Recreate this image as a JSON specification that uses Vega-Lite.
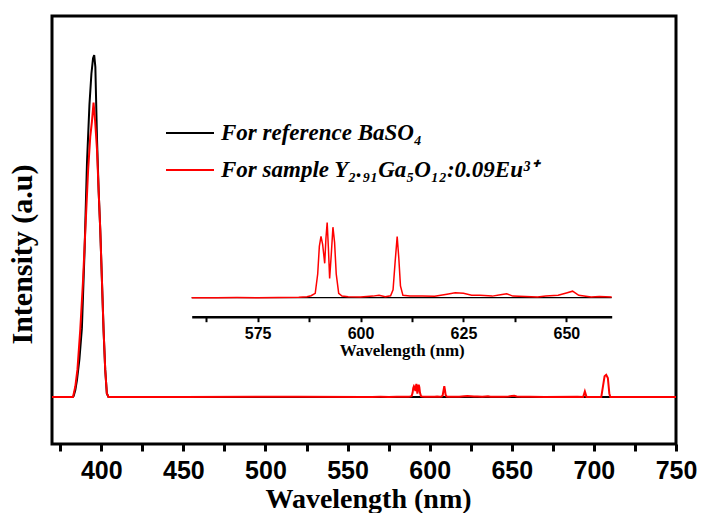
{
  "$schema": "https://vega.github.io/schema/vega-lite/v6.json",
  "width": 624,
  "height": 428,
  "autosize": {"type": "none"},
  "padding": {"left": 52, "top": 16, "right": 28, "bottom": 69},
  "background": "white",
  "config": {"view": {"stroke": "black", "strokeWidth": 3}, "axis": {"grid": false}},
  "datasets": {
    "spec": [
      {"w": 370, "I": 0, "s": "ref"},
      {"w": 382.5, "I": 0, "s": "ref"},
      {"w": 383.2, "I": 0.003, "s": "ref"},
      {"w": 384.2, "I": 0.02, "s": "ref"},
      {"w": 385.2, "I": 0.049, "s": "ref"},
      {"w": 386.7, "I": 0.11, "s": "ref"},
      {"w": 388.2, "I": 0.2, "s": "ref"},
      {"w": 389.8, "I": 0.42, "s": "ref"},
      {"w": 391.3, "I": 0.68, "s": "ref"},
      {"w": 392.8, "I": 0.85, "s": "ref"},
      {"w": 394, "I": 0.94, "s": "ref"},
      {"w": 395, "I": 0.985, "s": "ref"},
      {"w": 395.7, "I": 0.994, "s": "ref"},
      {"w": 396.4, "I": 0.96, "s": "ref"},
      {"w": 397.4, "I": 0.75, "s": "ref"},
      {"w": 398.4, "I": 0.6, "s": "ref"},
      {"w": 399.4, "I": 0.485, "s": "ref"},
      {"w": 400.4, "I": 0.34, "s": "ref"},
      {"w": 401.4, "I": 0.195, "s": "ref"},
      {"w": 402.4, "I": 0.08, "s": "ref"},
      {"w": 403.4, "I": 0.01, "s": "ref"},
      {"w": 404.4, "I": 0, "s": "ref"},
      {"w": 500, "I": 0, "s": "ref"},
      {"w": 559, "I": 0, "s": "ref"},
      {"w": 600, "I": 0, "s": "ref"},
      {"w": 630, "I": 0, "s": "ref"},
      {"w": 661, "I": 0, "s": "ref"},
      {"w": 750, "I": 0, "s": "ref"},

      {"w": 370, "I": 0, "s": "sample"},
      {"w": 382.8, "I": 0, "s": "sample"},
      {"w": 384.2, "I": 0.03, "s": "sample"},
      {"w": 385.5, "I": 0.08, "s": "sample"},
      {"w": 387.2, "I": 0.195, "s": "sample"},
      {"w": 388.8, "I": 0.33, "s": "sample"},
      {"w": 390.3, "I": 0.485, "s": "sample"},
      {"w": 392, "I": 0.66, "s": "sample"},
      {"w": 393.3, "I": 0.757, "s": "sample"},
      {"w": 394.3, "I": 0.8, "s": "sample"},
      {"w": 395.3, "I": 0.856, "s": "sample"},
      {"w": 396.3, "I": 0.8, "s": "sample"},
      {"w": 397.4, "I": 0.72, "s": "sample"},
      {"w": 398.4, "I": 0.6, "s": "sample"},
      {"w": 399.4, "I": 0.485, "s": "sample"},
      {"w": 400.4, "I": 0.34, "s": "sample"},
      {"w": 401.4, "I": 0.195, "s": "sample"},
      {"w": 402.4, "I": 0.08, "s": "sample"},
      {"w": 403.4, "I": 0.01, "s": "sample"},
      {"w": 404.4, "I": 0, "s": "sample"},
      {"w": 450, "I": 0, "s": "sample"},
      {"w": 500, "I": 0.0004, "s": "sample"},
      {"w": 520, "I": 0.0008, "s": "sample"},
      {"w": 559, "I": 0, "s": "sample"},
      {"w": 565, "I": 0, "s": "sample"},
      {"w": 570, "I": 0.0001, "s": "sample"},
      {"w": 575, "I": 0, "s": "sample"},
      {"w": 580, "I": 0.0001, "s": "sample"},
      {"w": 585, "I": 0.0002, "s": "sample"},
      {"w": 587, "I": 0.0005, "s": "sample"},
      {"w": 588, "I": 0.001, "s": "sample"},
      {"w": 589, "I": 0.0022, "s": "sample"},
      {"w": 589.6, "I": 0.012, "s": "sample"},
      {"w": 590, "I": 0.026, "s": "sample"},
      {"w": 590.4, "I": 0.031, "s": "sample"},
      {"w": 590.8, "I": 0.027, "s": "sample"},
      {"w": 591.3, "I": 0.0174, "s": "sample"},
      {"w": 591.6, "I": 0.03, "s": "sample"},
      {"w": 591.9, "I": 0.038, "s": "sample"},
      {"w": 592.2, "I": 0.025, "s": "sample"},
      {"w": 592.5, "I": 0.0098, "s": "sample"},
      {"w": 592.9, "I": 0.022, "s": "sample"},
      {"w": 593.3, "I": 0.0357, "s": "sample"},
      {"w": 593.7, "I": 0.028, "s": "sample"},
      {"w": 594.1, "I": 0.012, "s": "sample"},
      {"w": 594.7, "I": 0.0022, "s": "sample"},
      {"w": 595.5, "I": 0.0008, "s": "sample"},
      {"w": 597, "I": 0.0005, "s": "sample"},
      {"w": 600, "I": 0.0003, "s": "sample"},
      {"w": 603, "I": 0.0008, "s": "sample"},
      {"w": 604.5, "I": 0.0012, "s": "sample"},
      {"w": 606, "I": 0.0005, "s": "sample"},
      {"w": 607.3, "I": 0.001, "s": "sample"},
      {"w": 607.9, "I": 0.004, "s": "sample"},
      {"w": 608.4, "I": 0.018, "s": "sample"},
      {"w": 608.9, "I": 0.0309, "s": "sample"},
      {"w": 609.3, "I": 0.02, "s": "sample"},
      {"w": 609.7, "I": 0.006, "s": "sample"},
      {"w": 610.3, "I": 0.0012, "s": "sample"},
      {"w": 612, "I": 0.0008, "s": "sample"},
      {"w": 615, "I": 0.0008, "s": "sample"},
      {"w": 618, "I": 0.0007, "s": "sample"},
      {"w": 621, "I": 0.0018, "s": "sample"},
      {"w": 623, "I": 0.0025, "s": "sample"},
      {"w": 625, "I": 0.0022, "s": "sample"},
      {"w": 627, "I": 0.0012, "s": "sample"},
      {"w": 629, "I": 0.0012, "s": "sample"},
      {"w": 632, "I": 0.0008, "s": "sample"},
      {"w": 634, "I": 0.0015, "s": "sample"},
      {"w": 635.5, "I": 0.002, "s": "sample"},
      {"w": 637, "I": 0.0008, "s": "sample"},
      {"w": 640, "I": 0.0006, "s": "sample"},
      {"w": 643, "I": 0.0004, "s": "sample"},
      {"w": 645, "I": 0.0008, "s": "sample"},
      {"w": 648, "I": 0.0012, "s": "sample"},
      {"w": 650, "I": 0.0024, "s": "sample"},
      {"w": 651.5, "I": 0.0033, "s": "sample"},
      {"w": 653, "I": 0.0012, "s": "sample"},
      {"w": 656, "I": 0.0004, "s": "sample"},
      {"w": 658, "I": 0.0006, "s": "sample"},
      {"w": 661, "I": 0.0004, "s": "sample"},
      {"w": 670, "I": 0, "s": "sample"},
      {"w": 690, "I": 0.0005, "s": "sample"},
      {"w": 693.5, "I": 0, "s": "sample"},
      {"w": 694.5, "I": 0.016, "s": "sample"},
      {"w": 695.5, "I": 0, "s": "sample"},
      {"w": 704.5, "I": 0, "s": "sample"},
      {"w": 705.5, "I": 0.03, "s": "sample"},
      {"w": 706.5, "I": 0.06, "s": "sample"},
      {"w": 707.5, "I": 0.064, "s": "sample"},
      {"w": 708.5, "I": 0.055, "s": "sample"},
      {"w": 709.4, "I": 0.01, "s": "sample"},
      {"w": 710, "I": 0, "s": "sample"},
      {"w": 750, "I": 0, "s": "sample"}
    ]
  },
  "data": {"name": "spec"},
  "layer": [
    {
      "encoding": {
        "x": {
          "field": "w", "type": "quantitative",
          "scale": {"domain": [370, 750], "nice": false, "zero": false},
          "axis": {
            "values": [375, 400, 425, 450, 475, 500, 525, 550, 575, 600, 625, 650, 675, 700, 725, 750],
            "labelExpr": "datum.value % 50 == 0 ? datum.label : ''",
            "title": "Wavelength (nm)",
            "domain": false,
            "tickSize": 7, "tickWidth": 3, "tickColor": "black",
            "labelFont": "Liberation Sans", "labelFontWeight": "bold", "labelFontSize": 25, "labelColor": "black",
            "labelPadding": 7, "labelFlush": false, "labelOverlap": false,
            "titleFont": "Liberation Serif", "titleFontWeight": "bold", "titleFontSize": 28, "titleColor": "black",
            "titlePadding": 2, "titleX": 316
          }
        },
        "y": {
          "field": "I", "type": "quantitative",
          "scale": {"domain": [-0.137, 1.108], "nice": false, "zero": false},
          "axis": {
            "title": "Intensity (a.u)",
            "labels": false, "ticks": false, "tickSize": 0, "domain": false,
            "titleFont": "Liberation Serif", "titleFontWeight": "bold", "titleFontSize": 30, "titleColor": "black",
            "titlePadding": 15, "titleY": 238
          }
        },
        "color": {
          "field": "s", "type": "nominal",
          "scale": {"domain": ["ref", "sample"], "range": ["black", "#ff0000"]},
          "legend": {
            "orient": "none", "legendX": 113, "legendY": 92,
            "title": null,
            "symbolType": "stroke", "symbolSize": 2304, "symbolStrokeWidth": 2,
            "labelExpr": "datum.value == 'ref' ? 'For reference BaSO₄' : 'For sample Y₂.₉₁Ga₅O₁₂:0.09Eu³⁺'",
            "labelFont": "Liberation Serif", "labelFontStyle": "italic", "labelFontWeight": "bold",
            "labelFontSize": 23, "labelColor": "black", "labelLimit": 0, "labelOffset": 6,
            "rowPadding": -4
          }
        }
      },
      "layer": [
        {"transform": [{"filter": "datum.s == 'ref'"}], "mark": {"type": "line", "strokeWidth": 2}},
        {"transform": [{"filter": "datum.s == 'sample'"}], "mark": {"type": "line", "strokeWidth": 2}}
      ]
    },
    {
      "transform": [{"filter": "datum.w >= 559 && datum.w <= 661"}],
      "encoding": {
        "x": {
          "field": "w", "type": "quantitative",
          "scale": {"domain": [559, 661], "range": [139.7, 559.7], "nice": false, "zero": false},
          "axis": {
            "orient": "bottom", "offset": -127.3,
            "values": [562.5, 575, 587.5, 600, 612.5, 625, 637.5, 650],
            "labelExpr": "datum.value % 25 == 0 ? datum.label : ''",
            "title": "Wavelength (nm)",
            "domain": true, "domainColor": "black", "domainWidth": 2.5,
            "tickSize": 5, "tickWidth": 2, "tickColor": "black",
            "labelFont": "Liberation Sans", "labelFontWeight": "bold", "labelFontSize": 16, "labelColor": "black",
            "labelPadding": 4, "labelFlush": false, "labelOverlap": false,
            "titleFont": "Liberation Serif", "titleFontWeight": "bold", "titleFontSize": 17, "titleColor": "black",
            "titlePadding": 1
          }
        },
        "y": {
          "field": "I", "type": "quantitative",
          "scale": {"domain": [0, 0.04], "range": [281.7, 202.7], "nice": false, "zero": false},
          "axis": null
        },
        "color": {
          "field": "s", "type": "nominal",
          "scale": {"domain": ["ref", "sample"], "range": ["black", "#ff0000"]}
        }
      },
      "layer": [
        {"transform": [{"filter": "datum.s == 'ref'"}], "mark": {"type": "line", "strokeWidth": 1.2}},
        {"transform": [{"filter": "datum.s == 'sample'"}], "mark": {"type": "line", "strokeWidth": 1.5}}
      ]
    }
  ],
  "resolve": {
    "scale": {"x": "independent", "y": "independent"},
    "axis": {"x": "independent", "y": "independent"}
  }
}
